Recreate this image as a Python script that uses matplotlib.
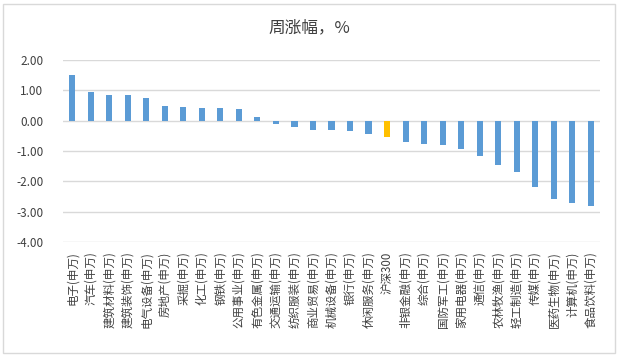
import matplotlib
matplotlib.use("Agg")
import matplotlib.pyplot as plt
from matplotlib.patches import Rectangle

plt.rcParams['font.family'] = ['Noto Sans CJK SC', 'DejaVu Sans']

categories = ["电子(申万)", "汽车(申万)", "建筑材料(申万)", "建筑装饰(申万)", "电气设备(申万)",
              "房地产(申万)", "采掘(申万)", "化工(申万)", "钢铁(申万)", "公用事业(申万)",
              "有色金属(申万)", "交通运输(申万)", "纺织服装(申万)", "商业贸易(申万)", "机械设备(申万)",
              "银行(申万)", "休闲服务(申万)", "沪深300", "非银金融(申万)", "综合(申万)",
              "国防军工(申万)", "家用电器(申万)", "通信(申万)", "农林牧渔(申万)", "轻工制造(申万)",
              "传媒(申万)", "医药生物(申万)", "计算机(申万)", "食品饮料(申万)"]
values = [1.50, 0.94, 0.85, 0.83, 0.75, 0.49, 0.46, 0.42, 0.42, 0.39,
          0.13, -0.12, -0.21, -0.30, -0.30, -0.33, -0.43, -0.53, -0.69, -0.77,
          -0.80, -0.92, -1.15, -1.45, -1.68, -2.18, -2.57, -2.70, -2.80]
highlight = "沪深300"
yticks = [2, 1, 0, -1, -2, -3, -4]

fig = plt.figure(figsize=(6.18, 3.56), dpi=100)
ax = fig.add_axes([63/618, 1-242/356, (600-63)/618, (242-60)/356])

colors = ["#FFC000" if c == highlight else "#5B9BD5" for c in categories]
x = list(range(len(categories)))
ax.bar(x, values, width=0.33, color=colors, zorder=3)

ax.set_xlim(-0.5, len(categories) - 0.5)
ax.set_ylim(-4, 2)
ax.set_yticks(yticks)
ax.set_yticklabels([f"{v:.2f}" for v in yticks], fontsize=8.5, color="#404040")
ax.set_xticks(x)
ax.set_xticklabels(categories, rotation=90, fontsize=8.3, color="#404040", va="top", ha="center")
ax.tick_params(axis='both', length=0)
ax.tick_params(axis='y', pad=14)
ax.tick_params(axis='x', pad=7)
ax.grid(axis='y', color="#D9D9D9", linewidth=1, zorder=0)
for s in ax.spines.values():
    s.set_visible(False)

fig.text(0.5, 1-28/356, "周涨幅，%", ha="center", va="center", fontsize=12, color="#404040")

fig.patches.append(Rectangle((3/618, 3/356), 612/618, 349/356, transform=fig.transFigure,
                             fill=False, edgecolor="#D9D9D9", linewidth=1))

fig.savefig("out.png", dpi=100)
